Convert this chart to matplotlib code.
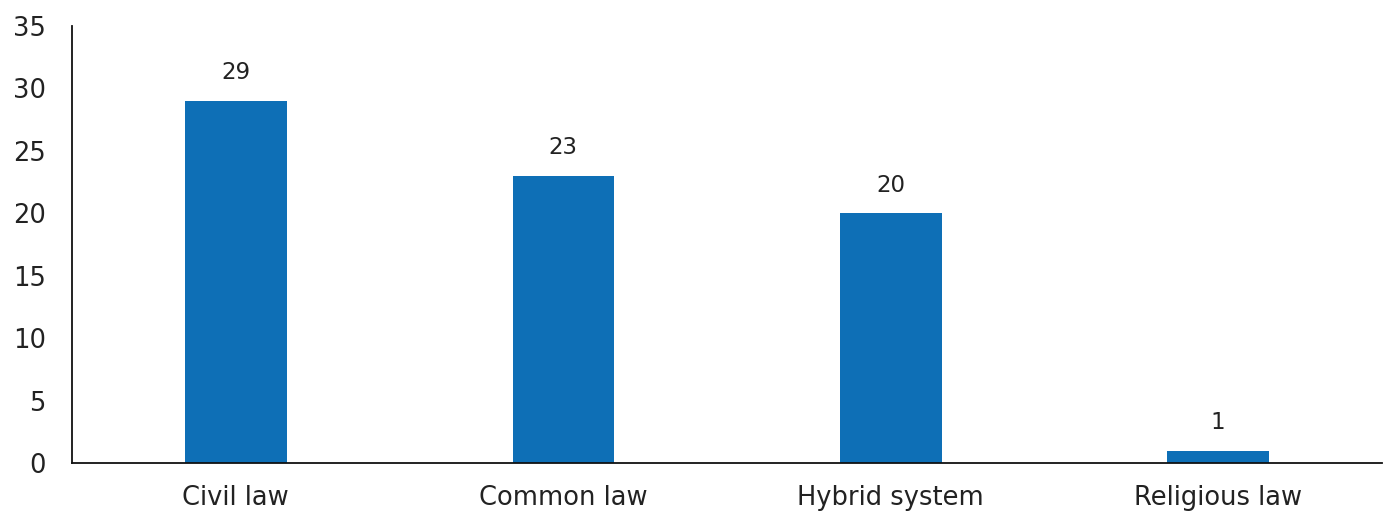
import matplotlib
matplotlib.use("Agg")
import matplotlib.pyplot as plt
import numpy as np

categories = ["Civil law", "Common law", "Hybrid system", "Religious law"]
values = [29, 23, 20, 1]
yticks = [0, 5, 10, 15, 20, 25, 30, 35]

BAR_COLOR = "#0E6FB6"
TEXT_COLOR = "#222222"

plt.rcParams["font.family"] = ["DejaVu Sans"]

fig = plt.figure(figsize=(13.91, 5.14), dpi=100)
ax = fig.add_axes([0.0518, 0.0992, 0.9417, 0.8502])

x = np.arange(len(categories))
ax.bar(x, values, width=0.31, color=BAR_COLOR, zorder=2)

for xi, v in zip(x, values):
    ax.annotate(str(v), (xi, v), xytext=(0, 12), textcoords="offset points",
                ha="center", va="bottom", fontsize=16.5, color=TEXT_COLOR)

ax.set_xlim(-0.5, len(categories) - 0.5)
ax.set_ylim(0, 35)
ax.set_yticks(yticks)
ax.set_xticks(x)
ax.set_xticklabels(categories)
ax.tick_params(axis="both", length=0, labelsize=18.5, colors=TEXT_COLOR)
ax.tick_params(axis="y", pad=19)
ax.tick_params(axis="x", pad=16)

for side in ["top", "right"]:
    ax.spines[side].set_visible(False)
for side in ["left", "bottom"]:
    ax.spines[side].set_color("#111111")
    ax.spines[side].set_linewidth(1.3)

fig.savefig("out.png", dpi=100)
